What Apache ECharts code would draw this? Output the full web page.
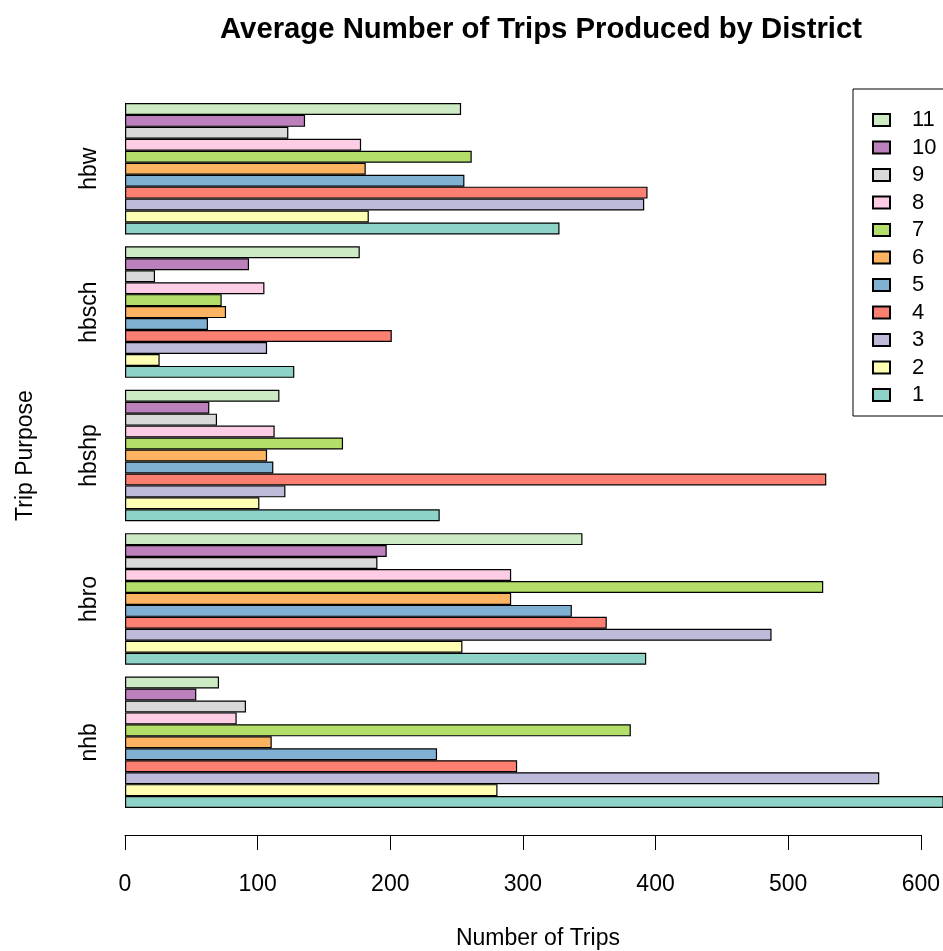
<!DOCTYPE html>
<html>
<head>
<meta charset="utf-8">
<script src="https://cdn.jsdelivr.net/npm/echarts@6/dist/echarts.min.js"></script>
<style>html,body{margin:0;padding:0;background:#fff}#chart{width:943px;height:951px}</style>
</head>
<body>
<div id="chart"></div>
<script>
// Trip purposes (bottom to top)
var categories = ['nhb', 'hbro', 'hbshp', 'hbsch', 'hbw'];
// District names
var districts = ['1','2','3','4','5','6','7','8','9','10','11'];
// Values per district, in the order of categories
var d1  = [640,   392.5, 237.0, 127.5, 327.2];
var d2  = [280.5, 254.1, 101.2,  26.1, 183.6];
var d3  = [568.0, 486.9, 120.8, 107.0, 391.0];
var d4  = [295.3, 362.8, 528.1, 200.9, 393.5];
var d5  = [235.0, 336.5, 111.7,  62.5, 255.6];
var d6  = [110.5, 290.8, 107.0,  76.1, 181.3];
var d7  = [380.9, 525.8, 164.2,  72.8, 261.1];
var d8  = [ 84.1, 290.8, 112.7, 105.0, 177.8];
var d9  = [ 91.1, 190.1,  69.3,  22.6, 123.0];
var d10 = [ 53.7, 197.1,  63.5,  93.4, 135.6];
var d11 = [ 70.8, 344.5, 116.3, 176.8, 253.1];
var values = [d1,d2,d3,d4,d5,d6,d7,d8,d9,d10,d11];
var colors = ['#8DD3C7','#FFFFB3','#BEBADA','#FB8072','#80B1D3','#FDB462','#B3DE69','#FCCDE5','#D9D9D9','#BC80BD','#CCEBC5'];
// tick labels of the drawn axis
var xTicks = [0,100,200,300,400,500,600];

var FONT = 'Liberation Sans, Arial, sans-serif';
var chart = echarts.init(document.getElementById('chart'), null, {renderer:'canvas'});

// series are added from district 11 down to 1 so that district 1 sits at the bottom of each group
var series = [];
for (var i = districts.length - 1; i >= 0; i--) {
  series.push({
    name: districts[i], type: 'bar', xAxisIndex: 0, yAxisIndex: 0,
    data: values[i], barGap: '0%', barCategoryGap: '8.333%',
    clip: true, silent: true,
    itemStyle: {color: colors[i], borderColor: '#000', borderWidth: 1.2}
  });
}

chart.setOption({
  animation: false,
  backgroundColor: '#fff',
  title: {
    text: 'Average Number of Trips Produced by District',
    left: 536, top: 10, textAlign: 'center',
    textStyle: {fontFamily: FONT, fontSize: 29.3, fontWeight: 'bold', color: '#000'}
  },
  legend: {
    orient: 'vertical', left: 853, top: 89,
    data: districts.slice().reverse(),
    itemWidth: 17, itemHeight: 12, itemGap: 5.5,
    padding: [20, 40, 10, 19],
    borderColor: '#000', borderWidth: 1, borderRadius: 0,
    icon: 'rect',
    textStyle: {fontFamily: FONT, fontSize: 22, color: '#000', lineHeight: 17, padding: [0,0,0,17]}
  },
  grid: [
    {left: 125, right: 0, top: 97, bottom: 137, containLabel: false},
    {left: 125, width: 796.5, top: 826, height: 10, containLabel: false}
  ],
  xAxis: [
    {gridIndex: 0, type: 'value', min: 0, max: 616, show: false},
    {gridIndex: 1, type: 'value', min: 0, max: 600, interval: 100, position: 'bottom',
     axisLine: {show: true, lineStyle: {color: '#000', width: 1}},
     axisTick: {show: true, length: 15, lineStyle: {color: '#000'}},
     axisLabel: {margin: 38, fontFamily: FONT, fontSize: 23, color: '#000',
       formatter: function(v){ return xTicks.indexOf(v) >= 0 ? String(v) : ''; }},
     splitLine: {show: false},
     name: 'Number of Trips', nameLocation: 'middle', nameGap: 92,
     nameTextStyle: {fontFamily: FONT, fontSize: 23, color: '#000', padding: [0,0,0,30]}}
  ],
  yAxis: [
    {gridIndex: 0, type: 'category', data: categories,
     axisLine: {show: false}, axisTick: {show: false},
     axisLabel: {rotate: 90, margin: 24, fontFamily: FONT, fontSize: 23, color: '#000'},
     name: 'Trip Purpose', nameLocation: 'middle', nameGap: 88, nameRotate: 90,
     nameTextStyle: {fontFamily: FONT, fontSize: 23, color: '#000'}},
    {gridIndex: 1, type: 'value', show: false}
  ],
  series: series
});
</script>
</body>
</html>
